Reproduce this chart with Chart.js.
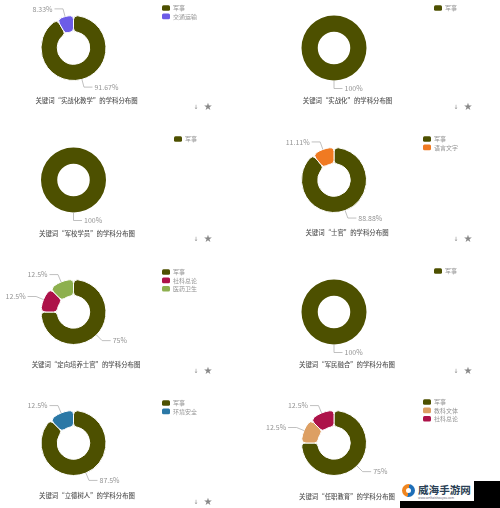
<!DOCTYPE html>
<html>
<head>
<meta charset="utf-8">
<script src="https://cdn.jsdelivr.net/npm/chart.js@4/dist/chart.umd.min.js"></script>
<style>
    html, body { margin: 0; padding: 0; background: #fff; overflow: hidden; }
    #page { position: relative; width: 500px; height: 508px; overflow: hidden; }
    canvas { position: absolute; }
    .black { position: absolute; background: #000; }
    #mark { position: absolute; left: 400px; top: 481px; width: 74px; height: 20px; background: #fff; }
    #mark .logo { position: absolute; left: 2px; top: 3px; width: 13px; height: 13px; border-radius: 50%;
        background: linear-gradient(100deg, #f0861f 50%, #1f6fb8 50%); }
    #mark .logo i { position: absolute; left: 4px; top: 4px; width: 5px; height: 5px; border-radius: 50%; background: #fff; }
    #mark .name { position: absolute; left: 18px; top: 1px; font: bold 10.6px "Noto Sans CJK SC"; color: #2a3f55; white-space: nowrap; }
    #mark .sub { position: absolute; left: 18px; top: 15px; font: 3px "Noto Sans CJK SC"; color: #667; white-space: nowrap; }
</style>
</head>
<body>
<div id="page">
    <div class="black" style="left:474px;top:481px;width:26px;height:27px"></div>
    <div class="black" style="left:400px;top:501px;width:74px;height:7px"></div>
    <div id="mark">
        <div class="logo"><i></i></div>
        <div class="name">威海手游网</div>
        <div class="sub">www.weihaishouyou.com</div>
    </div>
</div>
<script>
// one doughnut per keyword
const keywords = ['实战化教学', '实战化', '军校学员', '士官', '定向培养士官', '军民融合', '立德树人', '任职教育'];

const categories = [
    ['军事', '交通运输'],
    ['军事'],
    ['军事'],
    ['军事', '语言文字'],
    ['军事', '社科总论', '医药卫生'],
    ['军事'],
    ['军事', '环境安全'],
    ['军事', '教科文体', '社科总论']
];

const shares = [
    [91.67, 8.33],
    [100],
    [100],
    [88.88, 11.11],
    [75, 12.5, 12.5],
    [100],
    [87.5, 12.5],
    [75, 12.5, 12.5]
];

const subject_colors = {
    '军事': '#4d5000',
    '交通运输': '#6c5ce7',
    '语言文字': '#f07a22',
    '社科总论': '#ad1249',
    '医药卫生': '#8db04e',
    '环境安全': '#2b78a6',
    '教科文体': '#dd9f63'
};

// cell origin in the page, then where things sit inside the cell
const cell_x = [0, 250];
const cell_y = [0, 132, 264, 395];
const ring_x = [73.5, 84];
const ring_y = 48;
const ring_r = 32.5;
const legend_x = [162, 184, 174, 173, 162, 184, 162, 173];
const legend_y = [8, 8, 7, 7, 8, 7, 8, 7];
const title_x = [86.5, 97.5, 87, 97, 86, 97, 87, 97];
const title_y = [101, 101, 102, 101, 101, 101, 101, 102];
const cell_w = 250;
const cell_h = 125;

const font = '"Noto Sans CJK SC", "Noto Sans", sans-serif';

const labels_plugin = {
    id: 'labels_plugin',
    afterDraw(chart, args, opts) {
        const ctx = chart.ctx;
        const arcs = chart.getDatasetMeta(0).data;
        const values = chart.data.datasets[0].data;
        ctx.save();

        // leader lines and percent labels
        ctx.textBaseline = 'middle';
        ctx.font = '7px ' + font;
        arcs.forEach((arc, i) => {
            const p = arc.getProps(['x', 'y', 'startAngle', 'endAngle', 'outerRadius'], true);
            const mid = (p.startAngle + p.endAngle) / 2;
            const x1 = p.x + Math.cos(mid) * p.outerRadius;
            const y1 = p.y + Math.sin(mid) * p.outerRadius;
            const x2 = p.x + Math.cos(mid) * (p.outerRadius + 8);
            const y2 = p.y + Math.sin(mid) * (p.outerRadius + 8);
            const right = Math.cos(mid) > -0.01;
            const x3 = x2 + (right ? 8.5 : -8.5);
            ctx.strokeStyle = '#b0b0b0';
            ctx.lineWidth = 0.8;
            ctx.beginPath();
            ctx.moveTo(x1, y1);
            ctx.lineTo(x2, y2);
            ctx.lineTo(x3, y2);
            ctx.stroke();
            ctx.fillStyle = '#949494';
            ctx.textAlign = right ? 'left' : 'right';
            ctx.fillText(values[i] + '%', x3 + (right ? 2 : -2), y2);
        });

        // legend
        ctx.textAlign = 'left';
        ctx.font = '6px ' + font;
        chart.data.labels.forEach((name, i) => {
            const y = opts.legendY + i * 8.4;
            ctx.fillStyle = subject_colors[name];
            ctx.beginPath();
            ctx.roundRect(opts.legendX, y - 2.8, 8, 5.6, 1.5);
            ctx.fill();
            ctx.fillStyle = '#949494';
            ctx.fillText(name, opts.legendX + 11, y);
        });

        // title under the ring
        ctx.textAlign = 'center';
        ctx.font = '500 6.4px ' + font;
        ctx.fillStyle = '#555';
        ctx.fillText(opts.title, opts.titleX, opts.titleY);

        // little download + star icons
        ctx.font = '6px "DejaVu Sans"';
        ctx.fillStyle = '#888';
        ctx.fillText('↓', opts.iconX, 107);
        ctx.font = '10px "DejaVu Sans"';
        ctx.fillText('★', opts.iconX + 12, 107);
        ctx.restore();
    }
};

function add_chart(i) {
    const col = i % 2;
    const row = Math.floor(i / 2);
    const canvas = document.createElement('canvas');
    canvas.width = cell_w;
    canvas.height = cell_h;
    canvas.style.left = cell_x[col] + 'px';
    canvas.style.top = cell_y[row] + 'px';
    // stay under the watermark boxes
    document.getElementById('page').prepend(canvas);

    const single = shares[i].length === 1;
    // chart.js takes the border off the radius, so give split rings a bit back
    const r = single ? ring_r : ring_r + 0.5;
    return new Chart(canvas.getContext('2d'), {
        type: 'doughnut',
        data: {
            labels: categories[i],
            datasets: [{
                data: shares[i],
                backgroundColor: categories[i].map(c => subject_colors[c]),
                borderColor: '#fff',
                borderWidth: single ? 0 : 1,
                borderRadius: single ? 0 : 4
            }]
        },
        options: {
            responsive: false,
            animation: false,
            cutout: '50%',
            layout: {
                padding: {
                    left: ring_x[col] - r,
                    right: cell_w - ring_x[col] - r,
                    top: ring_y - r,
                    bottom: cell_h - ring_y - r
                }
            },
            plugins: {
                legend: { display: false },
                tooltip: { enabled: false },
                labels_plugin: {
                    legendX: legend_x[i],
                    legendY: legend_y[i],
                    title: '关键词“' + keywords[i] + '”的学科分布图',
                    titleX: title_x[i],
                    titleY: title_y[i],
                    iconX: col === 0 ? 196 : 206
                }
            }
        },
        plugins: [labels_plugin]
    });
}

keywords.forEach((k, i) => add_chart(i));
</script>
</body>
</html>
